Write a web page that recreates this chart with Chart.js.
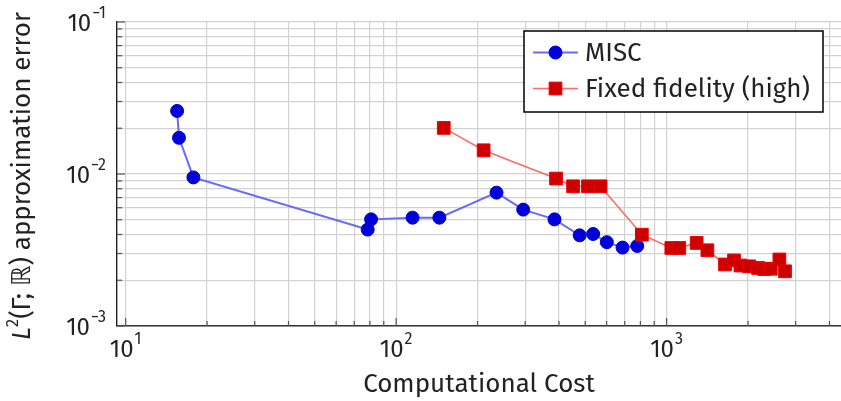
<!DOCTYPE html>
<html>
<head>
<title>MISC vs fixed fidelity</title>
<script src="https://cdn.jsdelivr.net/npm/chart.js"></script>
<style>
    body { margin: 0; background: #fff; }
    #wrap { width: 841px; height: 401px; position: relative; }
</style>
</head>
<body>
<div id="wrap"><canvas id="myChart"></canvas></div>
<script>
// data
const miscCost  = [15.5, 15.75, 17.8, 78.5, 80.8, 115, 144.5, 235, 295, 385, 477, 535, 601, 687, 779];
const miscError = [0.0260, 0.0173, 0.0095, 0.00431, 0.00503, 0.00516, 0.00516, 0.00754, 0.00583, 0.00503, 0.00395, 0.00403, 0.00356, 0.00328, 0.00336];

const fixedCost  = [150, 210.6, 390, 451, 512, 570, 810, 1041, 1114, 1291, 1415, 1644, 1775, 1875, 2018, 2178, 2293, 2427, 2612, 2740];
const fixedError = [0.0201, 0.01432, 0.00933, 0.0083, 0.0083, 0.0083, 0.00399, 0.00326, 0.00326, 0.00352, 0.00315, 0.00254, 0.0027, 0.0025, 0.00247, 0.00241, 0.00237, 0.00238, 0.00274, 0.00229];

const seriesLabels = ['MISC', 'Fixed fidelity (high)'];

// axes
const xMin = 9.29, xMax = 4413;
const yMin = 1e-3, yMax = 1e-1;
const xMajor = [10, 100, 1000];
const xExp = ['1', '2', '3'];
const yMajor = [1e-3, 1e-2, 1e-1];
const yExp = ['\u22123', '\u22122', '\u22121'];
const xTitle = 'Computational Cost';

const FONT = "'Fira Sans', 'Open Sans', 'DejaVu Sans', sans-serif";
const TEXT = '#222';

// 1..9 x 10^k inside [lo, hi]
function logTicks(lo, hi) {
    const out = [];
    for (let k = Math.floor(Math.log10(lo)); k <= Math.ceil(Math.log10(hi)); k++) {
        for (let m = 1; m <= 9; m++) {
            const v = m * Math.pow(10, k);
            if (v >= lo * 0.9999 && v <= hi * 1.0001) out.push({ value: v, major: m === 1 });
        }
    }
    return out;
}

// "10" with a raised exponent
function drawPower(ctx, exp, x, y, align) {
    ctx.font = '24px ' + FONT;
    const wBase = ctx.measureText('10').width;
    ctx.font = '16px ' + FONT;
    const wExp = ctx.measureText(exp).width;
    const total = wBase + 1 + wExp;
    let left = align === 'right' ? x - total : x - total / 2;
    ctx.textBaseline = 'middle';
    ctx.textAlign = 'left';
    ctx.font = '24px ' + FONT;
    ctx.fillText('10', left, y);
    ctx.font = '16px ' + FONT;
    ctx.fillText(exp, left + wBase + 1, y - 10);
}

const decor = {
    id: 'decor',
    afterDraw(chart) {
        const ctx = chart.ctx;
        const xs = chart.scales.x, ys = chart.scales.y;
        const a = chart.chartArea;
        ctx.save();

        // short inward tick marks on the left and bottom axes
        ctx.strokeStyle = '#555';
        ctx.lineWidth = 1.2;
        ys.ticks.forEach(t => {
            const y = ys.getPixelForValue(t.value);
            ctx.beginPath();
            ctx.moveTo(a.left, y);
            ctx.lineTo(a.left + (t.major ? 8 : 5), y);
            ctx.stroke();
        });
        xs.ticks.forEach(t => {
            const x = xs.getPixelForValue(t.value);
            ctx.beginPath();
            ctx.moveTo(x, a.bottom);
            ctx.lineTo(x, a.bottom - (t.major ? 8 : 5));
            ctx.stroke();
        });

        // tick labels
        ctx.fillStyle = TEXT;
        xMajor.forEach((v, i) => drawPower(ctx, xExp[i], xs.getPixelForValue(v), a.bottom + 24, 'center'));
        yMajor.forEach((v, i) => drawPower(ctx, yExp[i], a.left - 11, ys.getPixelForValue(v) + 2, 'right'));

        // x title
        ctx.font = '26px ' + FONT;
        ctx.textAlign = 'center';
        ctx.textBaseline = 'middle';
        ctx.fillText(xTitle, (a.left + a.right) / 2, 385);

        // y title: L^2(Γ; ℝ) approximation error
        ctx.translate(23, (a.top + a.bottom) / 2 + 2);
        ctx.rotate(-Math.PI / 2);
        const parts = [
            { t: 'L', f: 'italic 26px ' + FONT, dy: 0 },
            { t: '2', f: '17px ' + FONT, dy: -10 },
            { t: '(\u0393; \u211D) approximation error', f: '26px ' + FONT, dy: 0 }
        ];
        let w = 0;
        parts.forEach(p => { ctx.font = p.f; p.w = ctx.measureText(p.t).width; w += p.w; });
        let px = -w / 2;
        ctx.textAlign = 'left';
        parts.forEach(p => { ctx.font = p.f; ctx.fillText(p.t, px, p.dy); px += p.w; });
        ctx.setTransform(1, 0, 0, 1, 0, 0);

        // legend box
        const bx = 524, by = 31, bw = 299, bh = 81;
        ctx.fillStyle = '#fff';
        ctx.fillRect(bx, by, bw, bh);
        ctx.strokeStyle = '#000';
        ctx.lineWidth = 1.5;
        ctx.strokeRect(bx, by, bw, bh);
        const rows = [52.5, 88.5];
        chart.data.datasets.forEach((ds, i) => {
            const y = rows[i];
            ctx.strokeStyle = ds.borderColor;
            ctx.lineWidth = ds.borderWidth;
            ctx.beginPath();
            ctx.moveTo(533, y);
            ctx.lineTo(578, y);
            ctx.stroke();
            ctx.fillStyle = ds.pointBackgroundColor;
            ctx.strokeStyle = ds.pointBorderColor;
            ctx.lineWidth = 1;
            Chart.helpers.drawPoint(ctx, { pointStyle: ds.pointStyle, radius: ds.pointRadius, borderWidth: 1 }, 555.5, y);
            ctx.fillStyle = TEXT;
            ctx.font = '26px ' + FONT;
            ctx.textAlign = 'left';
            ctx.textBaseline = 'middle';
            ctx.fillText(ds.label, 585, y + 1);
        });
        ctx.restore();
    }
};

const ctx = document.getElementById('myChart').getContext('2d');
new Chart(ctx, {
    type: 'line',
    data: {
        datasets: [
            {
                label: seriesLabels[0],
                data: miscCost.map((c, i) => ({ x: c, y: miscError[i] })),
                borderColor: 'rgba(90, 90, 255, 0.9)',
                borderWidth: 2,
                pointStyle: 'circle',
                pointRadius: 6.5,
                pointBackgroundColor: '#0000d8',
                pointBorderColor: '#0000e0',
                pointBorderWidth: 1,
                order: 1
            },
            {
                label: seriesLabels[1],
                data: fixedCost.map((c, i) => ({ x: c, y: fixedError[i] })),
                borderColor: 'rgba(255, 90, 90, 0.9)',
                borderWidth: 1.6,
                pointStyle: 'rect',
                pointRadius: 9,
                pointBackgroundColor: '#cc0000',
                pointBorderColor: '#ee0000',
                pointBorderWidth: 1,
                order: 0
            }
        ]
    },
    options: {
        responsive: true,
        maintainAspectRatio: false,
        animation: false,
        layout: { autoPadding: false, padding: { top: 22, right: 0, left: 0, bottom: 0 } },
        plugins: { legend: { display: false }, tooltip: { enabled: false } },
        elements: { line: { tension: 0 } },
        scales: {
            x: {
                type: 'logarithmic',
                min: xMin, max: xMax,
                afterBuildTicks: s => { s.ticks = logTicks(xMin, xMax); },
                afterFit: s => { s.height = 75; },
                ticks: { display: false },
                grid: { color: '#d2d2d2', lineWidth: 1.2, drawTicks: false },
                border: { color: '#333', width: 1.6 }
            },
            y: {
                type: 'logarithmic',
                min: yMin, max: yMax,
                afterBuildTicks: s => { s.ticks = logTicks(yMin, yMax); },
                afterFit: s => { s.width = 117; },
                ticks: { display: false },
                grid: { color: '#d2d2d2', lineWidth: 1.2, drawTicks: false },
                border: { color: '#222', width: 1.4 }
            }
        }
    },
    plugins: [decor]
});
</script>
</body>
</html>
